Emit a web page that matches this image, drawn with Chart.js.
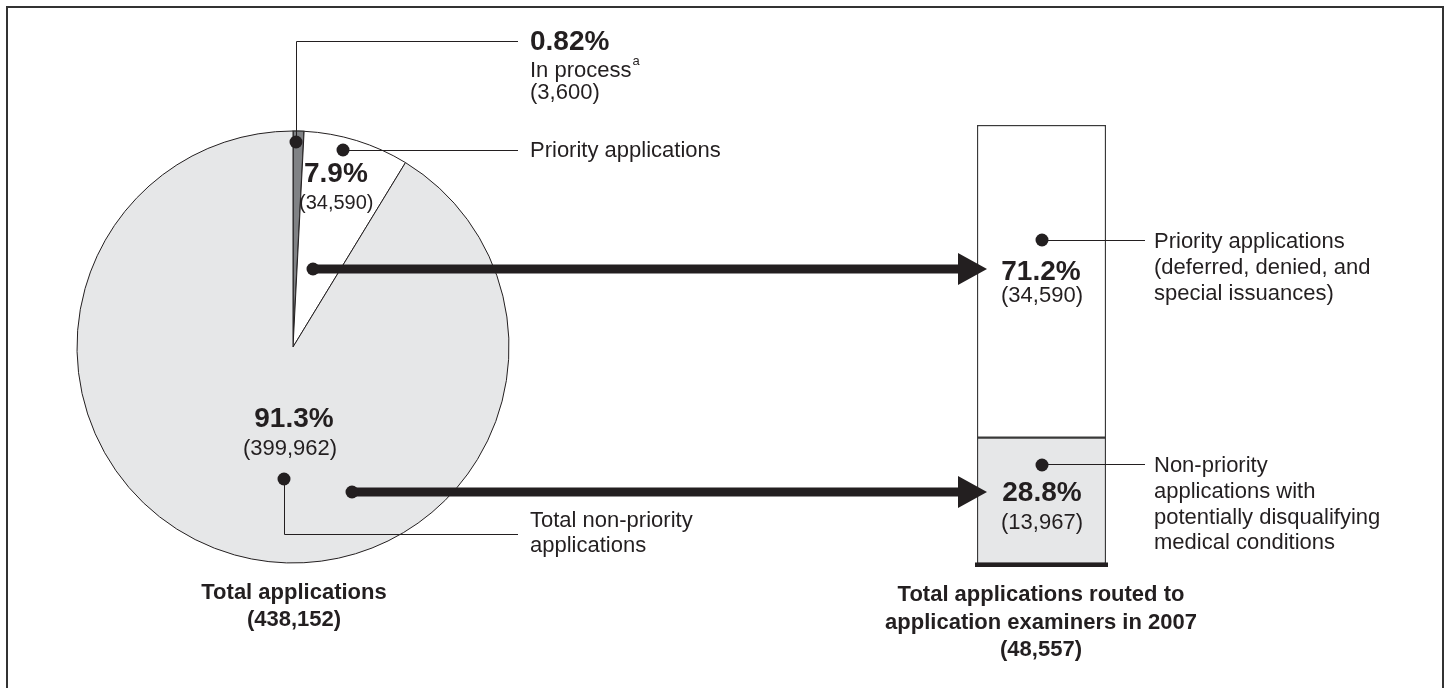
<!DOCTYPE html>
<html>
<head>
<meta charset="utf-8">
<script src="https://cdn.jsdelivr.net/npm/chart.js@4.4.1/dist/chart.umd.min.js"></script>
<style>
  html, body { margin: 0; padding: 0; background: #fff; overflow: hidden; }
  #wrap { position: relative; width: 1449px; height: 688px; overflow: hidden;
          font-family: "Liberation Sans", Arial, Helvetica, sans-serif; color: #231f20; }
  #frame { position: absolute; left: 6px; top: 6px; width: 1434px; height: 720px; border: 2px solid #333; }
  canvas { position: absolute; left: 0; top: 0; }
  .lbl { position: absolute; white-space: nowrap; line-height: 1; }
  .lbl sup { font-size: 13px; position: relative; top: -4px; margin-left: 1px; }
</style>
</head>
<body>
<div id="wrap">
  <div id="frame"></div>
  <canvas id="pieChart" width="1449" height="688"></canvas>
  <canvas id="barChart" width="1449" height="688"></canvas>
  <div id="labels"></div>
</div>
<script>
// Datos del gráfico
const pieLabels = ['In process', 'Priority applications', 'Total non-priority applications'];
const pieShares = [0.82, 7.9, 91.3];
const pieCounts = [3600, 34590, 399962];
const totalApplications = 438152;

const barLabels = ['Non-priority applications with potentially disqualifying medical conditions',
                   'Priority applications (deferred, denied, and special issuances)'];
const barShares = [28.8, 71.2];
const barCounts = [13967, 34590];
const totalRouted = 48557;

const priorityLines = ['Priority applications', '(deferred, denied, and', 'special issuances)'];
const nonPriorityLines = ['Non-priority', 'applications with', 'potentially disqualifying', 'medical conditions'];
const routedTitle = ['Total applications routed to', 'application examiners in 2007'];

const ink = '#231f20';
const pct = v => v + '%';
const num = v => '(' + v.toLocaleString('en-US') + ')';

// Gráfica 1: pastel de solicitudes totales
const pieChart = new Chart(document.getElementById('pieChart'), {
    type: 'pie',
    data: {
        labels: pieLabels,
        datasets: [{
            data: pieShares,
            backgroundColor: ['#808285', '#ffffff', '#e6e7e8'],
            borderColor: ['#3a3a3a', ink, ink],
            borderWidth: [1.5, 1, 1],
            radius: 216
        }]
    },
    options: {
        responsive: false,
        animation: false,
        events: [],
        layout: { padding: { left: 77, top: 131, right: 940, bottom: 125 } },
        plugins: { legend: { display: false }, tooltip: { enabled: false } }
    }
});

// Líneas guía, puntos y flechas
const annotations = {
    id: 'annotations',
    afterDraw(chart) {
        const ctx = chart.ctx;
        ctx.save();
        ctx.strokeStyle = ink;
        ctx.fillStyle = ink;
        ctx.lineWidth = 1;

        const paths = [
            [[296.5, 142], [296.5, 41.5], [518, 41.5]],
            [[343, 150.5], [518, 150.5]],
            [[284.5, 479], [284.5, 534.5], [518, 534.5]],
            [[1042, 240.5], [1145, 240.5]],
            [[1042, 464.5], [1145, 464.5]]
        ];
        paths.forEach(p => {
            ctx.beginPath();
            ctx.moveTo(p[0][0], p[0][1]);
            for (let i = 1; i < p.length; i++) ctx.lineTo(p[i][0], p[i][1]);
            ctx.stroke();
        });

        // barra inferior gruesa
        const el = chart.getDatasetMeta(0).data[0];
        ctx.fillRect(el.x - el.width / 2 - 2, el.base - 1.5, el.width + 4, 4.5);

        // flechas
        [[313, 269], [352, 492]].forEach(a => {
            ctx.lineWidth = 9;
            ctx.beginPath();
            ctx.moveTo(a[0], a[1]);
            ctx.lineTo(962, a[1]);
            ctx.stroke();
            ctx.beginPath();
            ctx.moveTo(958, a[1] - 16);
            ctx.lineTo(987, a[1]);
            ctx.lineTo(958, a[1] + 16);
            ctx.closePath();
            ctx.fill();
        });

        const dots = [[296, 142], [343, 150], [284, 479], [313, 269], [352, 492], [1042, 240], [1042, 465]];
        dots.forEach(d => {
            ctx.beginPath();
            ctx.arc(d[0], d[1], 6.5, 0, Math.PI * 2);
            ctx.fill();
        });
        ctx.restore();
    }
};

// Gráfica 2: barra apilada de solicitudes enviadas a examinadores
const barChart = new Chart(document.getElementById('barChart'), {
    type: 'bar',
    data: {
        labels: ['Routed'],
        datasets: [{
            label: barLabels[0],
            data: [barShares[0]],
            backgroundColor: '#e6e7e8',
            borderColor: '#3a3a3a',
            borderWidth: 1.5,
            borderSkipped: false
        }, {
            label: barLabels[1],
            data: [barShares[1]],
            backgroundColor: '#ffffff',
            borderColor: '#3a3a3a',
            borderWidth: 1.5,
            borderSkipped: false
        }]
    },
    options: {
        responsive: false,
        animation: false,
        events: [],
        layout: { padding: { left: 977, right: 343, top: 125, bottom: 124 } },
        datasets: { bar: { barPercentage: 1, categoryPercentage: 1 } },
        scales: {
            x: { stacked: true, display: false },
            y: { stacked: true, display: false, min: 0, max: 100 }
        },
        plugins: { legend: { display: false }, tooltip: { enabled: false } }
    },
    plugins: [annotations]
});

// Textos
const labelsBox = document.getElementById('labels');
function addLabel(text, x, base, size, bold, align) {
    const d = document.createElement('div');
    d.className = 'lbl';
    d.textContent = text;
    d.style.fontSize = size + 'px';
    d.style.fontWeight = bold ? 'bold' : 'normal';
    d.style.top = (base - 0.8465 * size) + 'px';
    d.style.left = x + 'px';
    if (align === 'center') d.style.transform = 'translateX(-50%)';
    labelsBox.appendChild(d);
    return d;
}

addLabel(pct(pieShares[0]), 530, 51, 28, true);
const inProc = addLabel(pieLabels[0], 530, 77, 22);
const sup = document.createElement('sup');
sup.textContent = 'a';
inProc.appendChild(sup);
addLabel(num(pieCounts[0]), 530, 100, 22);
addLabel(pieLabels[1], 530, 158, 22);
addLabel('Total non-priority', 530, 528, 22);
addLabel('applications', 530, 553, 22);

addLabel(pct(pieShares[1]), 304, 183, 28, true);
addLabel(num(pieCounts[1]), 299, 209, 20);
addLabel(pct(pieShares[2]), 294, 428, 28, true, 'center');
addLabel(num(pieCounts[2]), 290, 456, 22, false, 'center');
addLabel('Total applications', 294, 600, 22, true, 'center');
addLabel(num(totalApplications), 294, 627, 22, true, 'center');

addLabel(pct(barShares[1]), 1041, 281, 28, true, 'center');
addLabel(num(barCounts[1]), 1042, 303, 22, false, 'center');
addLabel(pct(barShares[0]), 1042, 502, 28, true, 'center');
addLabel(num(barCounts[0]), 1042, 530, 22, false, 'center');

priorityLines.forEach((t, i) => addLabel(t, 1154, 249 + i * 26, 22));
nonPriorityLines.forEach((t, i) => addLabel(t, 1154, 473 + i * 25.7, 22));

routedTitle.forEach((t, i) => addLabel(t, 1041, 602 + i * 27.5, 22, true, 'center'));
addLabel(num(totalRouted), 1041, 657, 22, true, 'center');
</script>
</body>
</html>
